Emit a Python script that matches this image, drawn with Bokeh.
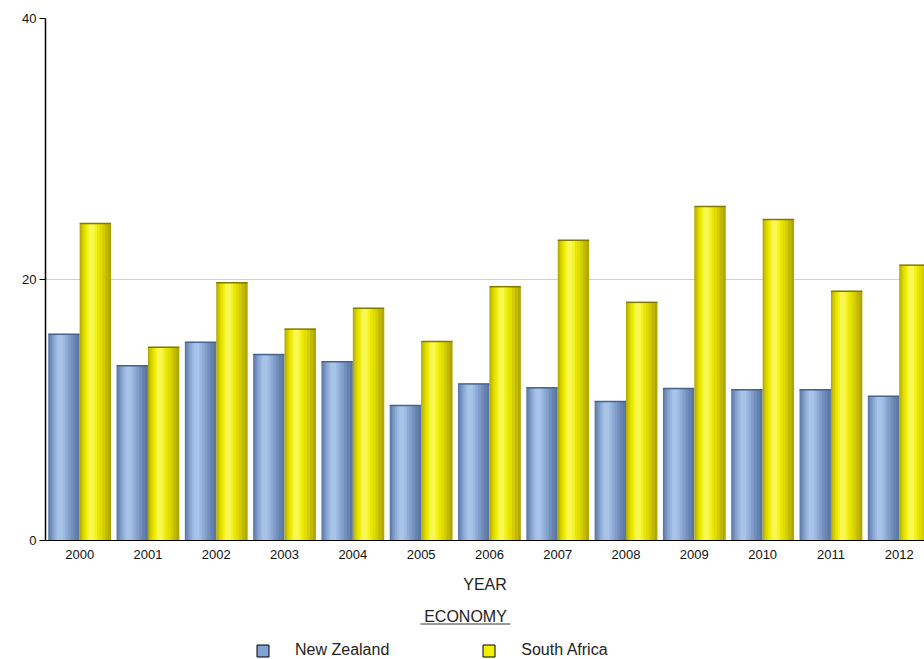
from bokeh.plotting import figure
from bokeh.layouts import column
from bokeh.models import Range1d, FixedTicker, Legend, LegendItem, Label
from bokeh.embed import file_html
from bokeh.resources import INLINE

years = [2000, 2001, 2002, 2003, 2004, 2005, 2006, 2007, 2008, 2009, 2010, 2011, 2012]
new_zealand = [15.8, 13.4, 15.2, 14.25, 13.7, 10.35, 12.0, 11.7, 10.65, 11.65, 11.55, 11.55, 11.05]
south_africa = [24.3, 14.8, 19.75, 16.2, 17.8, 15.25, 19.45, 23.0, 18.25, 25.6, 24.6, 19.1, 21.1]
y_ticks = [0, 20, 40]
series_names = ["New Zealand", "South Africa"]
legend_title = "ECONOMY"

FONT = "Liberation Sans"
NAN = float("nan")

p = figure(width=924, height=602, output_backend="svg", toolbar_location=None,
           x_range=Range1d(1999.5, 2012.37), y_range=Range1d(0, 40),
           min_border_left=45, min_border_right=0, min_border_top=18, min_border_bottom=62)
p.outline_line_color = None
p.background_fill_color = "white"
p.border_fill_color = "white"

# simulated cylindrical shading: (width fraction, centre shift fraction, colour)
nz_layers = [(1.0, 0.0, "#5a78a4"), (0.88, -0.03, "#6683b0"), (0.74, -0.06, "#7390bd"),
             (0.6, -0.08, "#819eca"), (0.46, -0.1, "#8eabd6"), (0.32, -0.11, "#9bb8e0"),
             (0.18, -0.12, "#a7c3e8")]
sa_layers = [(1.0, 0.0, "#b0a800"), (0.88, -0.03, "#c2ba00"), (0.74, -0.06, "#d2cc00"),
             (0.6, -0.08, "#e0dc00"), (0.46, -0.1, "#ebe800"), (0.32, -0.11, "#f3f220"),
             (0.18, -0.12, "#f8f850")]

BW = 0.46
for vals, off, layers, edge in [(new_zealand, -0.23, nz_layers, "#46628a"),
                                (south_africa, 0.23, sa_layers, "#807800")]:
    xs = [yr + off for yr in years]
    for wf, sh, col in layers:
        p.vbar(x=[x + sh * BW for x in xs], top=vals, width=BW * wf, bottom=0,
               fill_color=col, line_color=None)
    p.segment(x0=[x - BW / 2 for x in xs], x1=[x + BW / 2 for x in xs], y0=vals, y1=vals,
              line_color=edge, line_width=1.5)

p.xaxis.ticker = FixedTicker(ticks=years)
p.xaxis.major_tick_line_color = None
p.xaxis.minor_tick_line_color = None
p.xaxis.axis_line_color = "black"
p.xaxis.axis_line_width = 1
p.xaxis.major_label_text_font = FONT
p.xaxis.major_label_text_font_size = "13px"
p.xaxis.major_label_text_color = "#111111"
p.xaxis.major_label_standoff = 3
p.xaxis.axis_label = "YEAR"
p.xaxis.axis_label_text_font = FONT
p.xaxis.axis_label_text_font_size = "16px"
p.xaxis.axis_label_text_font_style = "normal"
p.xaxis.axis_label_text_color = "#222222"
p.xaxis.axis_label_standoff = 14

p.yaxis.ticker = FixedTicker(ticks=y_ticks)
p.yaxis.minor_tick_line_color = None
p.yaxis.major_tick_out = 6
p.yaxis.major_tick_in = 0
p.yaxis.major_tick_line_color = "black"
p.yaxis.axis_line_color = "black"
p.yaxis.axis_line_width = 1.5
p.yaxis.major_label_text_font = FONT
p.yaxis.major_label_text_font_size = "13px"
p.yaxis.major_label_text_color = "#111111"
p.yaxis.major_label_standoff = 3

p.xgrid.grid_line_color = None
p.ygrid.grid_line_color = "#d0d0d0"
p.ygrid.ticker = FixedTicker(ticks=[20, 40])

# ---- legend strip (frame aligned with main frame: page x 45..924, height 57) ----
lg = figure(width=924, height=57, output_backend="svg", toolbar_location=None,
            x_range=Range1d(45, 924), y_range=Range1d(0, 57),
            x_axis_type=None, y_axis_type=None,
            min_border_left=45, min_border_right=0, min_border_top=0, min_border_bottom=0)
lg.outline_line_color = None
lg.xgrid.visible = False
lg.ygrid.visible = False

lg.add_layout(Label(x=465, y=43, text=legend_title, text_align="center", text_baseline="middle",
                    text_font=FONT, text_font_size="16px", text_color="#222222"))
lg.segment(x0=[420], x1=[510], y0=[35.5], y1=[35.5], line_color="#333333", line_width=1)

r_nz = lg.rect(x=[NAN], y=[NAN], width=1, height=1, fill_color="#7fa3d4", line_color="black")
r_sa = lg.rect(x=[NAN], y=[NAN], width=1, height=1, fill_color="#f5f000", line_color="black")

legend = Legend(items=[LegendItem(label=series_names[0], renderers=[r_nz]),
                       LegendItem(label=series_names[1], renderers=[r_sa])],
                orientation="horizontal", location=(210, 0),
                label_text_font=FONT, label_text_font_size="16px", label_text_color="#222222",
                glyph_width=15, glyph_height=15, label_standoff=25, spacing=92,
                label_height=16,
                border_line_color=None, background_fill_alpha=0, padding=0, margin=0)
lg.add_layout(legend, "center")

layout = column(p, lg, spacing=0)
open("out.html", "w").write(file_html(layout, INLINE))
